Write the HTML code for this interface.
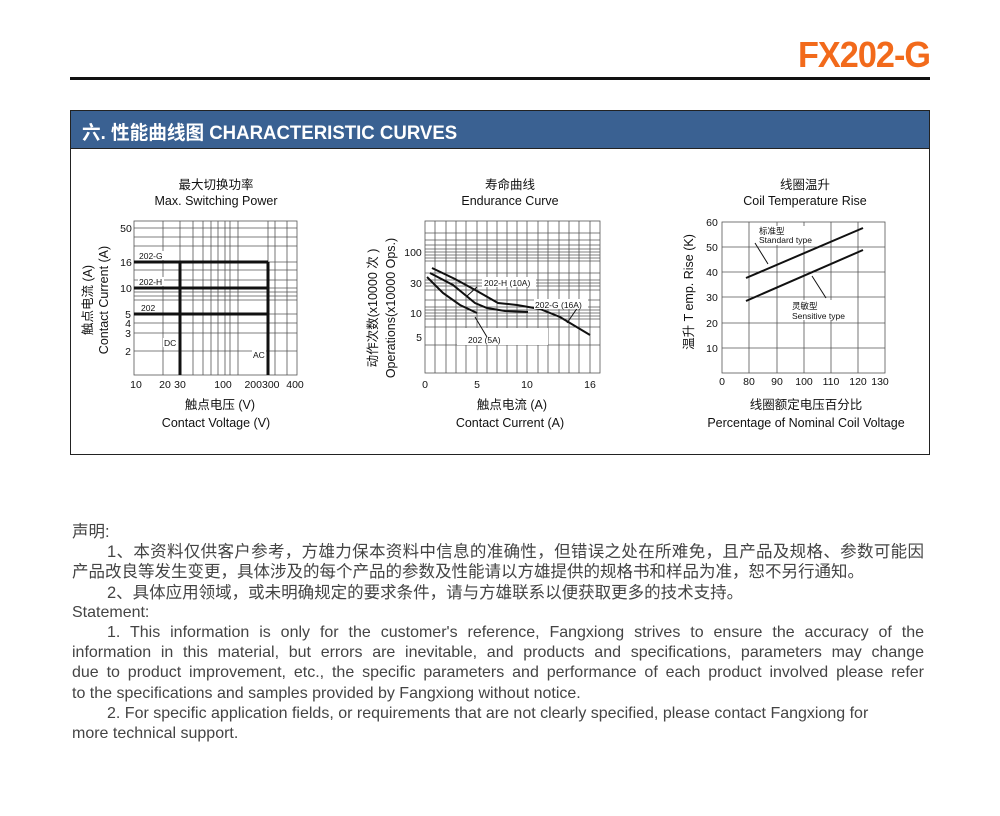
<!DOCTYPE html>
<html><head><meta charset="utf-8"><style>
body{margin:0;background:#fff;width:1000px;height:816px;overflow:hidden;position:relative;font-family:"Liberation Sans","Noto Sans CJK SC",sans-serif}
.t{position:absolute;left:72px;width:852px;font-size:16px;color:#444;line-height:20.2px}
.t div{white-space:nowrap}
.j{text-align:justify;text-align-last:justify;white-space:normal!important}
.cn{font-size:16.5px}
</style></head><body>
<div style="position:absolute;right:70px;top:34px;font-size:36px;font-weight:bold;color:#f26a1b;transform:scaleX(0.95);transform-origin:right;letter-spacing:-1px">FX202-G</div>
<div style="position:absolute;left:70px;top:77px;width:860px;height:3px;background:#111"></div>
<div style="position:absolute;left:70px;top:110px;width:858px;height:343px;border:1px solid #222"></div>
<div style="position:absolute;left:71px;top:111px;width:858px;height:37px;background:#3a6192;border-bottom:1px solid #222"></div>
<div style="position:absolute;left:82px;top:118px;color:#fff;font-size:19px;font-weight:bold;transform:scaleX(0.98);transform-origin:left">六. 性能曲线图 CHARACTERISTIC CURVES</div>
<svg width="1000" height="816" style="position:absolute;left:0;top:0" font-family="Liberation Sans,Noto Sans CJK SC,sans-serif">
<g stroke="#555" stroke-width="0.8" fill="none">
<rect x="134" y="221" width="163" height="154"/>
<path d="M163 221V375M180 221V375M193 221V375M203 221V375M211 221V375M218 221V375M225 221V375M230 221V375M238 221V375M268 221V375M275 221V375M287 221V375"/>
<path d="M134 228H297M134 237H297M134 246H297M134 262H297M134 270H297M134 280H297M134 288H297M134 292H297M134 296H297M134 300H297M134 314H297M134 323H297M134 333H297M134 351H297"/>
</g>
<g stroke="#111" stroke-width="3" fill="none"><path d="M134 262H268M134 288H268M134 314H268M180 262V375M268 262V375"/></g>
<g font-size="8.5" fill="#111"><rect x="138" y="251" width="26" height="9" fill="#fff"/><text x="139" y="259">202-G</text><rect x="138" y="277" width="26" height="9" fill="#fff"/><text x="139" y="285">202-H</text><rect x="140" y="303" width="18" height="9" fill="#fff"/><text x="141" y="311">202</text><rect x="163" y="338" width="14" height="9" fill="#fff"/><text x="164" y="346">DC</text><rect x="252" y="350" width="14" height="9" fill="#fff"/><text x="253" y="358">AC</text></g>
<g font-size="10.5" fill="#111" text-anchor="middle"><text x="126" y="232">50</text><text x="126" y="266">16</text><text x="126" y="292">10</text><text x="128" y="318">5</text><text x="128" y="327">4</text><text x="128" y="337">3</text><text x="128" y="355">2</text>
<text x="136" y="388">10</text><text x="165" y="388">20</text><text x="180" y="388">30</text><text x="223" y="388">100</text><text x="262" y="388">200300</text><text x="295" y="388">400</text></g>
<g font-size="12.5" fill="#111" text-anchor="middle"><text x="216" y="189">最大切换功率</text><text x="216" y="205">Max. Switching Power</text><text x="220" y="409">触点电压 (V)</text><text x="216" y="427">Contact Voltage (V)</text>
<text transform="translate(92,300) rotate(-90)">触点电流 (A)</text><text transform="translate(108,300) rotate(-90)">Contact Current (A)</text></g>

<g stroke="#555" stroke-width="0.8" fill="none">
<rect x="425" y="221" width="175" height="152"/>
<path d="M435 221V373M446 221V373M456 221V373M466 221V373M477 221V373M487 221V373M497 221V373M507 221V373M517 221V373M527 221V373M538 221V373M548 221V373M559 221V373M569 221V373M579 221V373M590 221V373"/>
<path d="M425 233H600M425 240H600M425 245H600M425 249H600M425 252H600M425 255H600M425 258H600M425 261H600M425 273H600M425 280H600M425 283H600M425 286H600M425 290H600M425 300H600M425 307H600M425 310H600M425 313H600M425 316H600M425 319H600M425 327H600M425 345H600"/>
</g>
<rect x="457" y="328" width="91" height="17" fill="#fff"/>
<g stroke="#111" stroke-width="2" fill="none">
<path d="M432 268L455 279L477 291L498 303L517 305L540 309L560 317L590 335"/>
<path d="M430 273L453 285L475 303L487 308L505 311L528 312"/>
<path d="M427 277L443 293L460 305L477 313"/>
</g>
<g stroke="#111" stroke-width="1" fill="none"><path d="M477 287L467 296M578 307L567 323M487 337L475 317"/></g>
<g font-size="8.5" fill="#111"><rect x="482" y="277" width="54" height="10" fill="#fff"/><text x="484" y="286">202-H  (10A)</text><rect x="534" y="299" width="54" height="10" fill="#fff"/><text x="535" y="308">202-G  (16A)</text><text x="468" y="343">202  (5A)</text></g>
<g font-size="10.5" fill="#111" text-anchor="middle"><text x="413" y="256">100</text><text x="416" y="287">30</text><text x="416" y="317">10</text><text x="419" y="341">5</text>
<text x="425" y="388">0</text><text x="477" y="388">5</text><text x="527" y="388">10</text><text x="590" y="388">16</text></g>
<g font-size="12.5" fill="#111" text-anchor="middle"><text x="510" y="189">寿命曲线</text><text x="510" y="205">Endurance Curve</text><text x="512" y="409">触点电流 (A)</text><text x="510" y="427">Contact Current (A)</text>
<text transform="translate(377,308) rotate(-90)">动作次数(x10000 次 )</text><text transform="translate(395,308) rotate(-90)">Operations(x10000 Ops.)</text></g>

<g stroke="#555" stroke-width="0.8" fill="none">
<rect x="722" y="222" width="163" height="151"/>
<path d="M749 222V373M777 222V373M804 222V373M831 222V373M858 222V373M722 247H885M722 272H885M722 297H885M722 323H885M722 348H885"/>
</g>
<g stroke="#111" stroke-width="2"><path d="M746 278L863 228M746 301L863 250"/></g>
<g stroke="#111" stroke-width="1"><path d="M755 243L768 264M826 298L812 276"/></g>
<g font-size="8.5" fill="#111"><rect x="757" y="226" width="60" height="19" fill="#fff"/><text x="759" y="234">标准型</text><text x="759" y="243">Standard type</text><rect x="790" y="300" width="62" height="20" fill="#fff"/><text x="792" y="309">灵敏型</text><text x="792" y="319">Sensitive type</text></g>
<g font-size="10.5" fill="#111" text-anchor="middle"><text x="712" y="226">60</text><text x="712" y="251">50</text><text x="712" y="276">40</text><text x="712" y="301">30</text><text x="712" y="327">20</text><text x="712" y="352">10</text>
<text x="722" y="385">0</text><text x="749" y="385">80</text><text x="777" y="385">90</text><text x="804" y="385">100</text><text x="831" y="385">110</text><text x="858" y="385">120</text><text x="880" y="385">130</text></g>
<g font-size="12.5" fill="#111" text-anchor="middle"><text x="805" y="189">线圈温升</text><text x="805" y="205">Coil Temperature Rise</text><text x="806" y="409">线圈额定电压百分比</text><text x="806" y="427">Percentage of Nominal Coil Voltage</text>
<text transform="translate(693,292) rotate(-90)">温升 T emp. Rise (K)</text></g>
</svg>
<div class="t" style="top:522px">
<div class="cn">声明:</div>
<div class="cn j" style="padding-left:35px">1、本资料仅供客户参考，方雄力保本资料中信息的准确性，但错误之处在所难免，且产品及规格、参数可能因</div>
<div class="cn">产品改良等发生变更，具体涉及的每个产品的参数及性能请以方雄提供的规格书和样品为准，恕不另行通知。</div>
<div class="cn" style="padding-left:35px">2、具体应用领域，或未明确规定的要求条件，请与方雄联系以便获取更多的技术支持。</div>
<div>Statement:</div>
<div class="j" style="padding-left:35px">1. This information is only for the customer's reference, Fangxiong strives to ensure the accuracy of the</div>
<div class="j">information in this material, but errors are inevitable, and products and specifications, parameters may change</div>
<div class="j">due to product improvement, etc., the specific parameters and performance of each product involved please refer</div>
<div>to the specifications and samples provided by Fangxiong without notice.</div>
<div style="padding-left:35px">2. For specific application fields, or requirements that are not clearly specified, please contact Fangxiong for</div>
<div>more technical support.</div>
</div>
</body></html>
